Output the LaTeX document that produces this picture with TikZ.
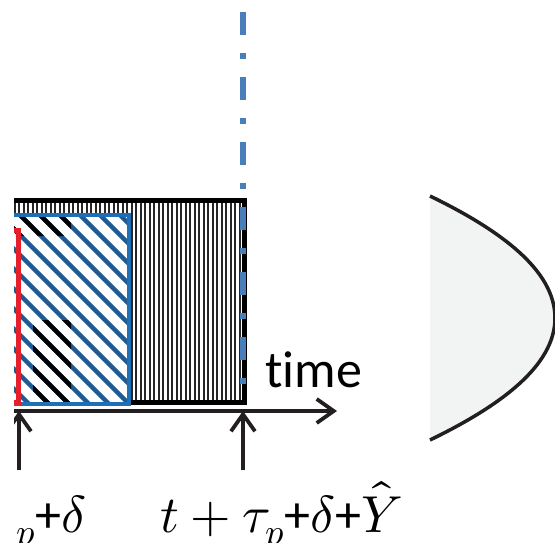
\documentclass[tikz,border=0pt]{standalone}
\usepackage{fontspec}
\usepackage{unicode-math}
\setmainfont{Carlito}[Ligatures=NoCommon]
\setmathfont{Latin Modern Math}
\usetikzlibrary{arrows.meta}
\definecolor{plotBlue}{HTML}{1F6FB8}
\definecolor{hatchBlue}{HTML}{1F5A94}
\definecolor{markRed}{HTML}{E5202A}
\definecolor{cutBlue}{HTML}{4A7EBB}
\definecolor{axisInk}{HTML}{231F20}
\definecolor{bellGrey}{HTML}{F2F3F3}

\begin{document}
\begin{tikzpicture}[x=1pt,y=-1pt,
    tick/.style={axisInk, line width=3.8pt, -{Straight Barb[length=17pt,width=24pt]}},
    lbl/.style={font=\fontsize{52}{60}\selectfont, inner sep=0pt}]
  \useasboundingbox (0,0) rectangle (555,542);
  \begin{scope}
  \clip (14,0) rectangle (555,542);
  % Busy period, vertical stripes
  \fill[white] (0,200) rectangle (244,402);
  \foreach \x in {1,5.5,...,241}
    \draw[black!85, line width=2pt] (\x,202) -- (\x,401);
  \draw[black, line width=5pt] (-20,200.5) rectangle (244,402.5);
  % Blue window with hatch
  \fill[white] (0,215) rectangle (129,404);
  \begin{scope}
    \clip (0,215) rectangle (129,404);
    \foreach \k in {-400,-380,...,140}
      \draw[hatchBlue, line width=4.5pt] (\k,215) -- ++(200,200);
    \clip (0,215) rectangle (71,236) (33,320) rectangle (71,404);
    \foreach \k in {-400,-380,...,140}
      \draw[black, line width=4.5pt] (\k,215) -- ++(200,200);
  \end{scope}
  \draw[plotBlue, line width=3.5pt] (-20,215) rectangle (129,404);
  % Red window
  \draw[markRed, line width=5pt] (-20,230) rectangle (18,402);
  % Dash-dot cut line
  \draw[cutBlue, line width=6pt, dash pattern=on 23pt off 18pt on 6pt off 18pt]
    (243,12) -- (243,402);
  % Time axis
  \coordinate (axisFrom) at (0,411);
  \coordinate (axisTo) at (337,411);
  \draw[tick] (axisFrom) -- (axisTo);
  \node[font=\fontsize{52}{60}\selectfont, inner sep=0pt, anchor=base west]
    (lblTime) at (265,387) {time};
  % Marks on the axis
  \coordinate (tStart) at (19,411);
  \coordinate (tStartFoot) at (19,470);
  \coordinate (tEnd) at (243,411);
  \coordinate (tEndFoot) at (243,470);
  \draw[tick] (tStartFoot) -- (tStart);
  \draw[tick] (tEndFoot) -- (tEnd);
  \node[lbl, anchor=base east] (lblStart) at (87,532) {${}_p$+$\delta$};
  \node[lbl, anchor=base west] (lblEnd) at (160,532) {$t+\tau_p$+$\delta$+$\hat{Y}$};
  % Grey bell on the right
  \fill[bellGrey] (430,196) .. controls (500,230) and (555,270) .. (555,318)
    .. controls (555,366) and (500,406) .. (430,440) -- cycle;
  \draw[axisInk, line width=3.5pt] (430,196) .. controls (500,230) and (555,270) .. (555,318)
    .. controls (555,366) and (500,406) .. (430,440);
  \end{scope}
\end{tikzpicture}
\end{document}
